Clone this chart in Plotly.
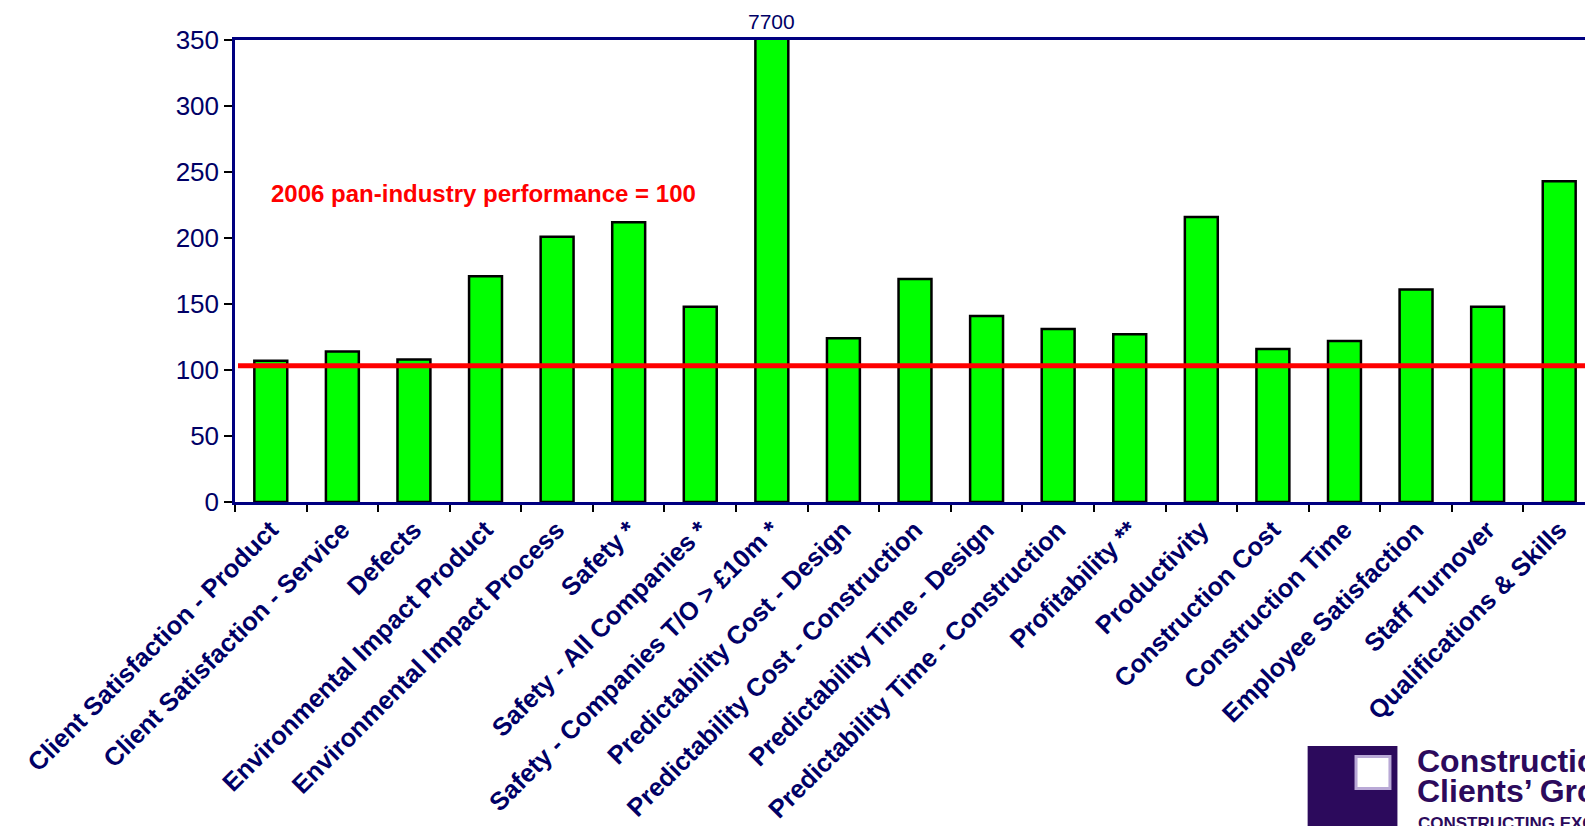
import plotly.graph_objects as go

categories = [
    "Client Satisfaction - Product", "Client Satisfaction - Service", "Defects",
    "Environmental Impact Product", "Environmental Impact Process", "Safety *",
    "Safety - All Companies *", "Safety - Companies T/O > £10m *",
    "Predictability Cost - Design", "Predictability Cost - Construction",
    "Predictability Time - Design", "Predictability Time - Construction",
    "Profitability **", "Productivity", "Construction Cost", "Construction Time",
    "Employee Satisfaction", "Staff Turnover", "Qualifications & Skills",
]
values = [107, 114, 108, 171, 201, 212, 148, 7700, 124, 169, 141, 131, 127,
          216, 116, 122, 161, 148, 243]
benchmark_value = 103.3
benchmark_text = "2006 pan-industry performance = 100"
y_ticks = [0, 50, 100, 150, 200, 250, 300, 350]
y_max = 350

W, H = 1593, 826
ML, MR, MT, MB = 227, 3, 32, 332
PW, PH = W - ML - MR, H - MT - MB

def px_x(x):
    return (x - ML) / PW

def px_y(y):
    return (H - MB - y) / PH

FONT = "Liberation Sans, Arial, sans-serif"
NAVY = "#000080"
TXT = "#000066"
PURPLE = "#2c0a5c"

fig = go.Figure()
fig.add_trace(go.Bar(
    x=categories, y=values,
    marker=dict(color="#00ff00", line=dict(color="black", width=2.5)),
    showlegend=False, hoverinfo="x+y",
))

# label for the off-scale bar
big = max(range(len(values)), key=lambda i: values[i])
annotations = [
    dict(x=categories[big], y=y_max, xref="x", yref="y", text=str(values[big]),
         showarrow=False, yanchor="bottom", yshift=6, borderpad=0,
         font=dict(family=FONT, size=21, color=TXT)),
    dict(x=px_x(476), y=px_y(185), xref="paper", yref="paper",
         text="<b>" + benchmark_text + "</b>", showarrow=False,
         xanchor="center", yanchor="middle",
         font=dict(family=FONT, size=24, color="#ff0000")),
    dict(x=px_x(1410), y=px_y(753), xref="paper", yref="paper",
         text="<b>Construction</b>", showarrow=False, xanchor="left", yanchor="middle",
         font=dict(family=FONT, size=32, color=PURPLE)),
    dict(x=px_x(1410), y=px_y(783), xref="paper", yref="paper",
         text="<b>Clients\u2019 Group</b>", showarrow=False, xanchor="left", yanchor="middle",
         font=dict(family=FONT, size=32, color=PURPLE)),
    dict(x=px_x(1411), y=px_y(815), xref="paper", yref="paper",
         text="<b>CONSTRUCTING EXCELLENCE</b>", showarrow=False, xanchor="left", yanchor="middle",
         font=dict(family=FONT, size=17, color=PURPLE)),
]

shapes = [
    dict(type="line", xref="paper", yref="y", x0=px_x(230), x1=px_x(1588),
         y0=benchmark_value, y1=benchmark_value,
         line=dict(color="#ff0000", width=5), layer="above"),
    dict(type="rect", xref="paper", yref="paper",
         x0=px_x(1302), x1=px_x(1392), y0=px_y(830), y1=px_y(738),
         fillcolor=PURPLE, line=dict(width=0), layer="above"),
    dict(type="rect", xref="paper", yref="paper",
         x0=px_x(1350.5), x1=px_x(1384.5), y0=px_y(780.5), y1=px_y(748.5),
         fillcolor="white", line=dict(color="#b9a9d6", width=3), layer="above"),
]

fig.update_layout(
    width=W, height=H, autosize=False,
    margin=dict(l=ML, r=MR, t=MT, b=MB, pad=0),
    plot_bgcolor="white", paper_bgcolor="white",
    bargap=0.54,
    annotations=annotations, shapes=shapes,
    xaxis=dict(
        type="category", tickangle=-45, tickson="boundaries",
        ticks="outside", ticklen=7, tickwidth=2, tickcolor="black",
        showline=True, linecolor=NAVY, linewidth=2.5, mirror=True,
        showgrid=False, zeroline=False,
        tickfont=dict(family=FONT, size=25.5, color=TXT, weight="bold"),
    ),
    yaxis=dict(
        range=[0, y_max], tickvals=y_ticks, ticktext=[str(t) for t in y_ticks],
        ticks="outside", ticklen=8, tickwidth=2, tickcolor="black",
        showline=True, linecolor=NAVY, linewidth=2.5, mirror=True,
        showgrid=False, zeroline=False,
        tickfont=dict(family=FONT, size=26, color=TXT),
    ),
)

fig.write_html("out.html")
